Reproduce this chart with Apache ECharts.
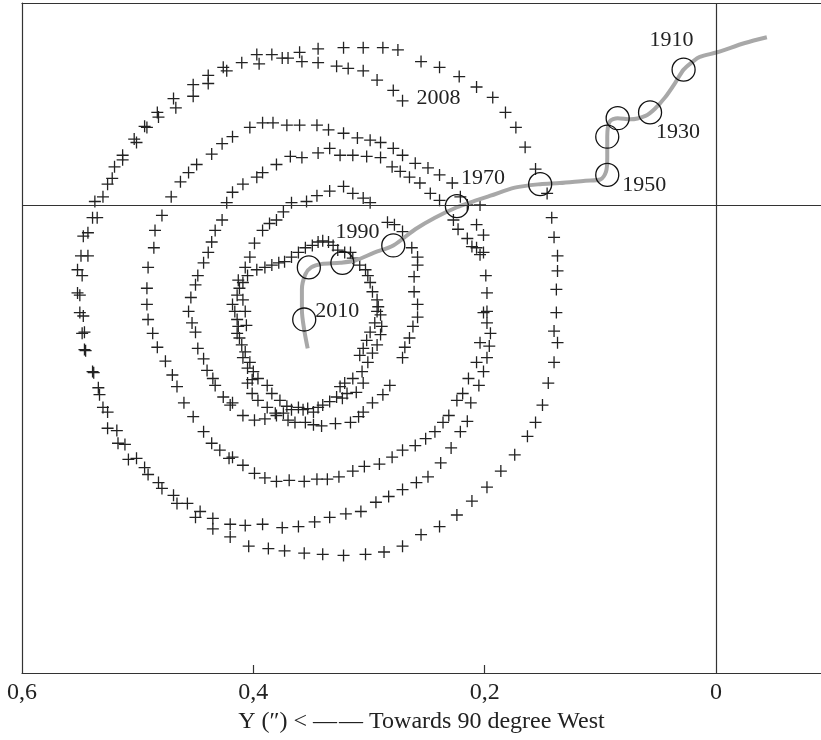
<!DOCTYPE html>
<html>
<head>
<meta charset="utf-8">
<script src="https://cdn.jsdelivr.net/npm/echarts@6/dist/echarts.min.js"></script>
<style>html,body{margin:0;padding:0;background:#fff}#c{width:821px;height:740px}</style>
</head>
<body>
<div id="c"></div>
<script>
// Horizontal axis: Y (arcsec, increasing to the left); vertical axis: X (arcsec, increasing downward)
const xTickValues = [0, 0.2, 0.4, 0.6];
const xMinorTicks = [0.2, 0.4];
const xRange = [-0.0908, 0.6];
const yRange = [-0.1746, 0.4046];
const axisTitle = 'Y (\u2033) < \u2014\u200a\u2014 Towards 90 degree West';

// Spiral of polar positions (+ marks), first point = start, labelled 2008
const spiralStartLabel = '2008';
const spiralPoints = [
[0.271,-0.090],
[0.537,-0.003],[0.530,-0.007],[0.526,-0.018],[0.522,-0.023],[0.520,-0.033],[0.513,-0.039],[0.513,-0.043],[0.503,-0.057],[0.501,-0.054],[0.494,-0.068],[0.492,-0.067],[0.483,-0.080],[0.482,-0.076],[0.469,-0.092],[0.467,-0.084],[0.452,-0.104],[0.452,-0.094],[0.439,-0.112],[0.439,-0.105],[0.426,-0.119],[0.423,-0.116],
[0.471,-0.007],[0.463,-0.020],[0.456,-0.028],[0.449,-0.035],[0.436,-0.044],[0.427,-0.053],[0.418,-0.059],
[0.418,-0.011],[0.423,-0.002],
[0.410,-0.123],[0.397,-0.130],[0.395,-0.122],[0.384,-0.130],[0.375,-0.127],[0.370,-0.127],[0.360,-0.132],[0.358,-0.124],[0.344,-0.135],[0.344,-0.123],[0.328,-0.120],[0.322,-0.136],[0.318,-0.118],[0.305,-0.116],[0.305,-0.136],[0.293,-0.108],[0.288,-0.136],[0.279,-0.099],[0.275,-0.134],
[0.403,-0.067],[0.392,-0.071],[0.383,-0.071],[0.371,-0.069],[0.360,-0.069],[0.345,-0.069],[0.335,-0.065],[0.322,-0.062],[0.310,-0.058],[0.299,-0.056],[0.290,-0.054],[0.279,-0.049],[0.271,-0.043],
[0.409,-0.018],[0.397,-0.024],[0.392,-0.028],[0.380,-0.035],[0.368,-0.042],[0.358,-0.041],[0.344,-0.045],[0.334,-0.049],[0.325,-0.043],[0.314,-0.043],[0.302,-0.042],[0.290,-0.041],[0.280,-0.033],[0.273,-0.029],
[0.367,-0.002],[0.354,-0.003],[0.345,-0.008],[0.334,-0.012],[0.322,-0.016],[0.314,-0.010],[0.305,-0.006],[0.299,-0.002],
[0.255,-0.124],[0.239,-0.119],[0.222,-0.111],[0.207,-0.102],[0.193,-0.093],[0.182,-0.080],[0.173,-0.067],[0.165,-0.050],[0.156,-0.031],[0.146,-0.010],
[0.260,-0.036],[0.249,-0.032],[0.239,-0.026],[0.228,-0.019],
[0.265,-0.024],[0.256,-0.019],[0.247,-0.010],[0.239,-0.004],
[0.221,-0.007],[0.215,0.000],[0.204,0.000],
[0.142,0.011],[0.140,0.028],[0.137,0.044],[0.137,0.057],[0.138,0.073],[0.138,0.093],[0.140,0.109],[0.137,0.119],[0.140,0.136],[0.145,0.154],
[0.227,0.013],[0.223,0.021],[0.207,0.017],[0.201,0.026],[0.215,0.029],[0.211,0.036],[0.207,0.037],[0.204,0.043],[0.201,0.041],[0.199,0.061],[0.198,0.076],[0.201,0.093],[0.198,0.092],[0.198,0.102],[0.195,0.111],[0.204,0.119],[0.196,0.122],[0.198,0.132],[0.207,0.136],[0.201,0.144],[0.214,0.150],
[0.271,0.023],[0.263,0.037],[0.258,0.045],[0.258,0.052],[0.261,0.062],[0.261,0.075],[0.258,0.086],[0.258,0.097],[0.262,0.105],[0.265,0.115],[0.269,0.123],[0.271,0.132],
[0.150,0.173],[0.156,0.188],[0.163,0.200],[0.174,0.216],[0.186,0.230],[0.198,0.244],[0.211,0.256],[0.224,0.268],[0.239,0.278],[0.255,0.285],[0.271,0.295],
[0.205,0.156],[0.219,0.163],[0.212,0.171],[0.224,0.169],[0.215,0.187],[0.231,0.182],[0.221,0.196],[0.236,0.188],[0.243,0.196],[0.229,0.210],[0.251,0.202],[0.260,0.208],[0.271,0.212],[0.238,0.223],[0.249,0.235],[0.259,0.240],[0.271,0.246],
[0.287,0.300],[0.303,0.302],[0.322,0.303],[0.340,0.302],[0.356,0.301],[0.373,0.299],[0.387,0.297],[0.404,0.295],
[0.407,0.277],[0.392,0.276],[0.375,0.279],[0.361,0.278],[0.347,0.274],[0.334,0.270],[0.320,0.267],[0.307,0.265],[0.294,0.257],[0.283,0.252],
[0.418,0.218],[0.409,0.225],[0.399,0.232],[0.390,0.236],[0.380,0.239],[0.369,0.238],[0.356,0.239],[0.345,0.237],[0.336,0.237],[0.326,0.235],[0.314,0.230],[0.304,0.226],[0.291,0.224],[0.280,0.218],
[0.418,0.171],[0.409,0.182],[0.399,0.186],[0.390,0.185],[0.380,0.182],[0.370,0.186],[0.364,0.188],[0.355,0.188],[0.348,0.190],[0.341,0.191],[0.329,0.189],[0.316,0.188],[0.309,0.183],[0.305,0.179],[0.297,0.171],[0.288,0.164],[0.282,0.156],
[0.405,0.154],[0.401,0.163],[0.396,0.169],[0.388,0.175],[0.384,0.163],[0.381,0.180],[0.377,0.169],[0.374,0.180],[0.371,0.174],[0.367,0.177],[0.361,0.175],[0.357,0.177],[0.353,0.176],[0.348,0.179],[0.344,0.175],[0.340,0.173],[0.334,0.170],[0.328,0.166],[0.323,0.167],[0.319,0.163],[0.311,0.162],[0.305,0.154],[0.325,0.157],[0.388,0.156],
[0.403,0.045],[0.399,0.033],[0.392,0.022],[0.386,0.016],[0.380,0.013],[0.374,0.006],
[0.414,0.078],[0.409,0.067],[0.405,0.061],[0.397,0.056],[0.390,0.054],[0.384,0.052],[0.378,0.050],[0.373,0.049],[0.367,0.045],[0.361,0.041],[0.355,0.037],[0.349,0.035],[0.344,0.032],[0.340,0.031],[0.335,0.032],[0.331,0.035],[0.327,0.039],[0.321,0.041],[0.316,0.041],[0.314,0.046],[0.308,0.052],[0.303,0.056],[0.301,0.061],[0.299,0.067],[0.297,0.075],[0.293,0.082],[0.292,0.088],[0.293,0.092],[0.290,0.095],[0.295,0.102],[0.289,0.105],[0.299,0.110],[0.290,0.112],[0.302,0.117],[0.293,0.121],[0.305,0.124],[0.297,0.128],[0.308,0.130],[0.301,0.136],[0.306,0.144],[0.314,0.150],[0.321,0.154],
[0.418,0.086],[0.416,0.092],[0.414,0.099],[0.413,0.105],[0.414,0.111],[0.412,0.115],[0.410,0.121],[0.407,0.127],[0.409,0.132],[0.403,0.136],[0.405,0.141],[0.400,0.144],[0.396,0.150],[0.401,0.151],[0.413,0.065],[0.412,0.072],[0.409,0.082],[0.407,0.092],[0.406,0.104],[0.407,0.054],
[0.539,0.011],[0.535,0.011],[0.547,0.027],[0.543,0.024],[0.549,0.044],[0.543,0.044],[0.552,0.056],[0.548,0.061],[0.552,0.076],[0.550,0.078],[0.550,0.093],[0.547,0.096],[0.548,0.111],[0.546,0.110],[0.546,0.125],[0.545,0.126],[0.539,0.144],[0.538,0.145],
[0.479,0.009],[0.485,0.022],[0.486,0.037],[0.491,0.054],[0.492,0.072],[0.492,0.086],[0.491,0.099],[0.487,0.111],[0.483,0.123],[0.476,0.135],[0.470,0.147],
[0.427,0.013],[0.433,0.022],[0.436,0.032],[0.439,0.041],[0.443,0.050],[0.448,0.061],[0.450,0.069],[0.454,0.080],[0.456,0.092],[0.453,0.102],[0.450,0.110],[0.448,0.124],[0.443,0.133],[0.440,0.143],[0.435,0.150],
[0.534,0.158],[0.533,0.164],[0.530,0.175],[0.526,0.179],[0.526,0.193],[0.518,0.195],[0.517,0.206],[0.511,0.207],[0.508,0.220],[0.501,0.219],[0.494,0.227],[0.491,0.233],[0.482,0.240],[0.479,0.245],[0.469,0.251],[0.466,0.258],[0.457,0.258],[0.450,0.270],[0.446,0.265],[0.435,0.271],[0.435,0.280],[0.420,0.276],[0.420,0.287],
[0.466,0.157],[0.460,0.171],[0.452,0.183],[0.443,0.196],[0.436,0.206],[0.429,0.212],[0.421,0.219],
[0.433,0.156],[0.426,0.166],[0.420,0.173],
[0.284,0.015],[0.278,0.017]
];

// Mean pole drift curve 1910-2010 (gray line)
const trendPoints = [
[-0.044,-0.145],[-0.025,-0.140],[-0.001,-0.132],[0.014,-0.128],[0.020,-0.124],[0.028,-0.117],[0.035,-0.106],[0.044,-0.093],[0.053,-0.083],[0.061,-0.077],[0.074,-0.074],[0.085,-0.075],[0.092,-0.072],[0.094,-0.059],[0.094,-0.041],[0.095,-0.029],[0.100,-0.022],[0.113,-0.021],[0.135,-0.019],[0.152,-0.018],[0.174,-0.015],[0.195,-0.008],[0.213,-0.002],[0.224,0.002],[0.243,0.011],[0.260,0.021],[0.279,0.035],[0.295,0.041],[0.312,0.048],[0.325,0.050],[0.341,0.051],[0.350,0.054],[0.355,0.060],[0.358,0.073],[0.358,0.091],[0.356,0.108],[0.353,0.124]
];

// Decade markers (circles) and their labels
const decadePoints = [
[0.028,-0.117],[0.057,-0.080],[0.085,-0.075],[0.094,-0.059],[0.094,-0.026],[0.152,-0.018],[0.224,0.001],[0.279,0.035],[0.323,0.050],[0.352,0.054],[0.356,0.099]
];
const decadeLabels = ['1910','1930','','','1950','','1970','','1990','','2010'];
const decadeLabelOffsets = [[-12,-29],[28,20],[0,0],[0,0],[37,10],[0,0],[26,-28],[0,0],[15,-31],[0,0],[33,-8]];

const serif = 'Liberation Serif';
const chart = echarts.init(document.getElementById('c'), null, {renderer: 'canvas'});

const spiralData = spiralPoints.map((p, i) => i === 0 ? {
  value: p,
  label: {show: true, formatter: spiralStartLabel, position: 'inside', offset: [36, -3],
          fontFamily: serif, fontSize: 22, color: '#222'}
} : p);

const decadeData = decadePoints.map((p, i) => ({
  value: p,
  label: {show: decadeLabels[i] !== '', formatter: decadeLabels[i], position: 'inside',
          offset: decadeLabelOffsets[i], fontFamily: serif, fontSize: 22, color: '#222'}
}));

const frameLine = {color: '#333', width: 1.2};

chart.setOption({
  animation: false,
  backgroundColor: '#fff',
  grid: {left: 22, right: 0, top: 3, bottom: 67, show: false},
  xAxis: [{
    type: 'value', inverse: true, min: xRange[0], max: xRange[1], position: 'bottom',
    axisLine: {show: true, onZero: false, lineStyle: frameLine},
    splitLine: {show: false},
    axisTick: {show: true, inside: true, length: 8, customValues: xMinorTicks, lineStyle: frameLine},
    axisLabel: {customValues: xTickValues, showMinLabel: true, showMaxLabel: true, margin: 8,
      fontFamily: serif, fontSize: 24, color: '#222',
      formatter: v => (v === 0 ? '0' : String(v).replace('.', ','))},
    name: axisTitle, nameLocation: 'middle', nameGap: 36,
    nameTextStyle: {fontFamily: serif, fontSize: 24, color: '#222'}
  }, {
    type: 'value', inverse: true, min: xRange[0], max: xRange[1], position: 'top',
    axisLine: {show: true, onZero: false, lineStyle: frameLine},
    axisTick: {show: false}, axisLabel: {show: false}, splitLine: {show: false}
  }],
  yAxis: {
    type: 'value', inverse: true, min: yRange[0], max: yRange[1],
    axisLine: {show: true, onZero: false, lineStyle: frameLine},
    axisTick: {show: false}, axisLabel: {show: false}, splitLine: {show: false}
  },
  series: [
    {
      type: 'scatter', name: 'spiral', data: spiralData, z: 2,
      symbol: 'path://M0,-6V6M-6,0H6', symbolSize: 12,
      itemStyle: {color: 'rgba(0,0,0,0)', borderColor: '#222', borderWidth: 1.3, opacity: 1},
      emphasis: {disabled: true},
      markLine: {silent: true, symbol: 'none', label: {show: false},
        lineStyle: {color: '#333', width: 1.2, type: 'solid'},
        data: [{xAxis: 0}, {yAxis: 0}]}
    },
    {
      type: 'line', name: 'trend', data: trendPoints, z: 3, smooth: 0.3,
      showSymbol: false, symbol: 'none',
      lineStyle: {color: '#a8a8a8', width: 4}
    },
    {
      type: 'scatter', name: 'decades', data: decadeData, z: 4,
      symbol: 'circle', symbolSize: 23,
      itemStyle: {color: 'rgba(0,0,0,0)', borderColor: '#111', borderWidth: 1.3, opacity: 1}
    }
  ]
});
</script>
</body>
</html>
